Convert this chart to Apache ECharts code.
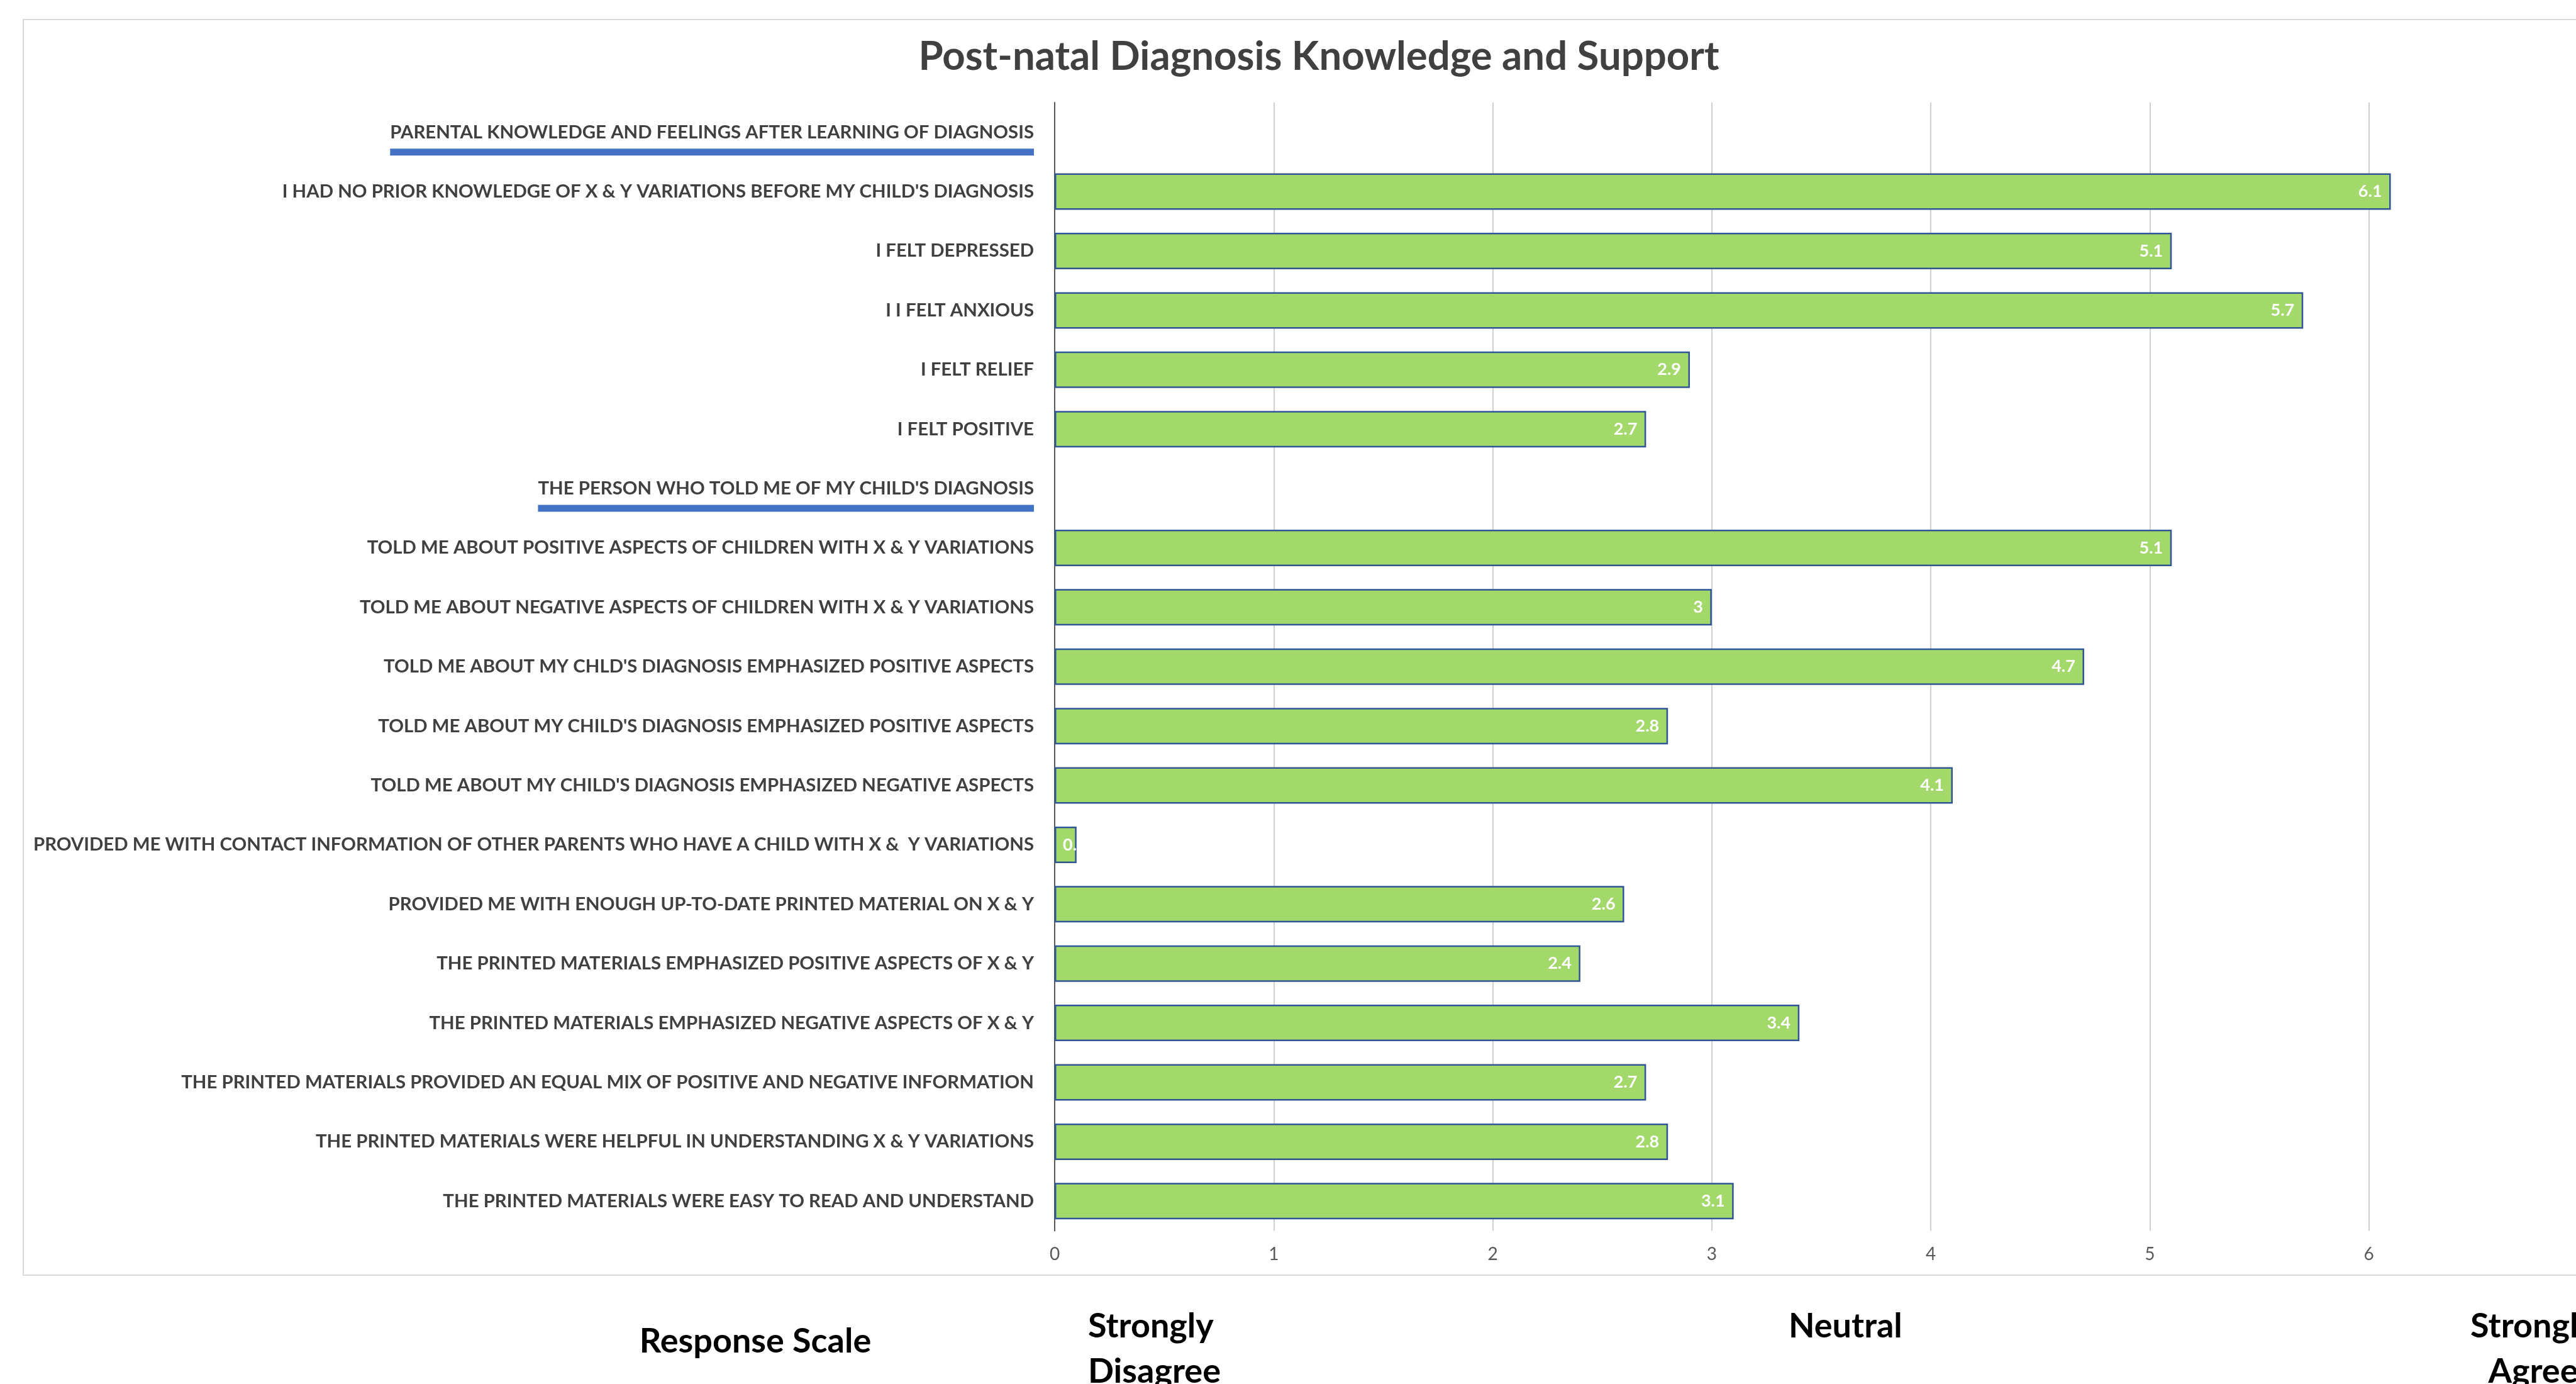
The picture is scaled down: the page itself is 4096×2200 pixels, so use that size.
<!DOCTYPE html>
<html>
<head>
<meta charset="utf-8">
<script src="https://cdn.jsdelivr.net/npm/echarts@6/dist/echarts.min.js"></script>
<style>
html,body{margin:0;padding:0;background:#fff;}
#chart{width:4096px;height:2200px;}
</style>
</head>
<body>
<div id="chart"></div>
<script>
// ---- data ----
const chartTitle = 'Post-natal Diagnosis Knowledge and Support';
const categories = [
  "PARENTAL KNOWLEDGE AND FEELINGS AFTER LEARNING OF DIAGNOSIS",
  "I HAD NO PRIOR KNOWLEDGE OF X & Y VARIATIONS BEFORE MY CHILD'S DIAGNOSIS",
  "I FELT DEPRESSED",
  "I I FELT ANXIOUS",
  "I FELT RELIEF",
  "I FELT POSITIVE",
  "THE PERSON WHO TOLD ME OF MY CHILD'S DIAGNOSIS",
  "TOLD ME ABOUT POSITIVE ASPECTS OF CHILDREN WITH X & Y VARIATIONS",
  "TOLD ME ABOUT NEGATIVE ASPECTS OF CHILDREN WITH X & Y VARIATIONS",
  "TOLD ME ABOUT MY CHLD'S DIAGNOSIS EMPHASIZED POSITIVE ASPECTS",
  "TOLD ME ABOUT MY CHILD'S DIAGNOSIS EMPHASIZED POSITIVE ASPECTS",
  "TOLD ME ABOUT MY CHILD'S DIAGNOSIS EMPHASIZED NEGATIVE ASPECTS",
  "PROVIDED ME WITH CONTACT INFORMATION OF OTHER PARENTS WHO HAVE A CHILD WITH X &  Y VARIATIONS",
  "PROVIDED ME WITH ENOUGH UP-TO-DATE PRINTED MATERIAL ON X & Y",
  "THE PRINTED MATERIALS EMPHASIZED POSITIVE ASPECTS OF X & Y",
  "THE PRINTED MATERIALS EMPHASIZED NEGATIVE ASPECTS OF X & Y",
  "THE PRINTED MATERIALS PROVIDED AN EQUAL MIX OF POSITIVE AND NEGATIVE INFORMATION",
  "THE PRINTED MATERIALS WERE HELPFUL IN UNDERSTANDING X & Y VARIATIONS",
  "THE PRINTED MATERIALS WERE EASY TO READ AND UNDERSTAND"
];
const headerCategories = [
  "PARENTAL KNOWLEDGE AND FEELINGS AFTER LEARNING OF DIAGNOSIS",
  "THE PERSON WHO TOLD ME OF MY CHILD'S DIAGNOSIS"
];
const values = [null, 6.1, 5.1, 5.7, 2.9, 2.7, null, 5.1, 3, 4.7, 2.8, 4.1, 0.1, 2.6, 2.4, 3.4, 2.7, 2.8, 3.1];
const axisMin = 0, axisMax = 7, axisInterval = 1;
const scaleTitle = 'Response Scale';
const scaleLow = 'Strongly\nDisagree';
const scaleMid = 'Neutral';
const scaleHigh = 'Strongly\nAgree';

// ---- chart ----
const FONT = 'Lato, "Open Sans", sans-serif';
const chart = echarts.init(document.getElementById('chart'), null, {renderer: 'canvas'});

const seriesData = values.map(v => {
  if (v === null) return null;
  if (v < 0.5) {
    return {value: v, label: {position: 'insideLeft', distance: 13, width: 30, overflow: 'truncate', ellipsis: ''}};
  }
  return v;
});

const option = {
  backgroundColor: '#ffffff',
  animation: false,
  title: {
    text: chartTitle,
    left: 2092,
    top: 54,
    textAlign: 'center',
    textStyle: {fontFamily: FONT, fontWeight: 'bold', fontSize: 63.5, color: '#404040'}
  },
  grid: {left: 1677, width: 2438, top: 163, bottom: 243.5, containLabel: false, outerBoundsMode: 'none'},
  xAxis: {
    type: 'value',
    min: axisMin, max: axisMax, interval: axisInterval,
    axisLine: {show: false},
    axisTick: {show: false},
    splitLine: {show: true, lineStyle: {color: '#d0d0d0', width: 2}},
    axisLabel: {fontFamily: FONT, fontSize: 28, color: '#595959', margin: 23}
  },
  yAxis: {
    type: 'category',
    inverse: true,
    data: categories,
    axisTick: {show: false},
    axisLine: {show: true, lineStyle: {color: '#595959', width: 2}},
    axisLabel: {
      margin: 33,
      fontFamily: FONT, fontSize: 29.4, fontWeight: 'bold', color: '#404040',
      formatter: function (v) {
        if (headerCategories.indexOf(v) >= 0) return '{s| }\n{h|' + v + '}\n{u| }';
        return v;
      },
      rich: {
        s: {lineHeight: 11, height: 11, fontSize: 2},
        h: {fontFamily: FONT, fontSize: 29.4, fontWeight: 'bold', color: '#404040', lineHeight: 52},
        u: {lineHeight: 11, height: 11, fontSize: 2, width: '100%', backgroundColor: '#4472C4'}
      }
    }
  },
  series: [{
    type: 'bar',
    data: seriesData,
    barWidth: 58,
    itemStyle: {color: '#A3D86B', borderColor: '#2F5597', borderWidth: 2.5},
    label: {
      show: true, position: 'insideRight', distance: 14,
      fontFamily: FONT, fontSize: 27, fontWeight: 'bold', color: '#ffffff'
    }
  }],
  graphic: [
    {type: 'rect', z: -10, silent: true,
     shape: {x: 37, y: 31, width: 4200, height: 1996},
     style: {fill: 'none', stroke: '#d9d9d9', lineWidth: 2}},
    {type: 'text', x: 1201, y: 2133,
     style: {text: scaleTitle, align: 'center', verticalAlign: 'middle', font: 'bold 54px ' + FONT, fill: '#000'}},
    {type: 'text', x: 1730, y: 2145,
     style: {text: scaleLow, align: 'left', verticalAlign: 'middle', lineHeight: 72, font: 'bold 54px ' + FONT, fill: '#000'}},
    {type: 'text', x: 2844, y: 2109,
     style: {text: scaleMid, align: 'left', verticalAlign: 'middle', font: 'bold 54px ' + FONT, fill: '#000'}},
    {type: 'text', x: 4028, y: 2145,
     style: {text: scaleHigh, align: 'center', verticalAlign: 'middle', lineHeight: 72, font: 'bold 54px ' + FONT, fill: '#000'}}
  ]
};
chart.setOption(option);
</script>
</body>
</html>
